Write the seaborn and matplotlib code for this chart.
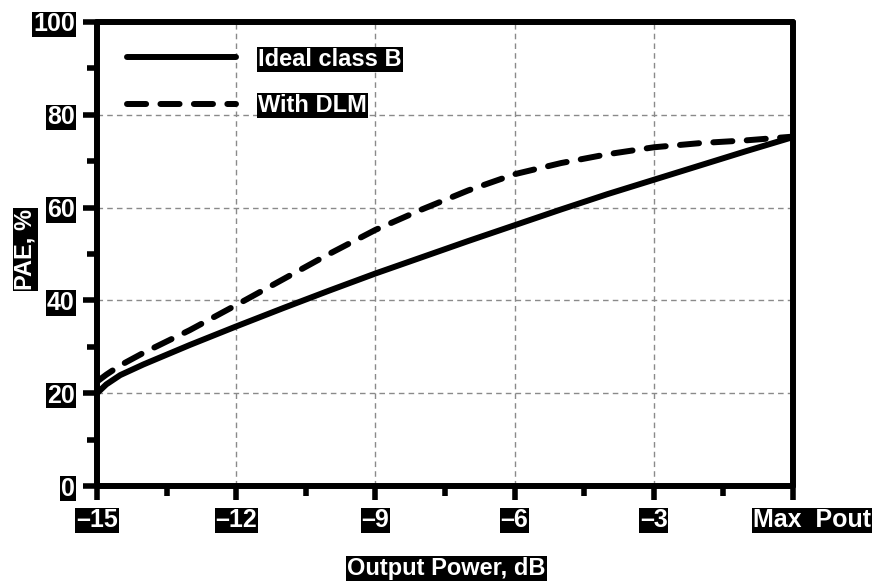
import numpy as np
import pandas as pd
import matplotlib
matplotlib.use("Agg")
import matplotlib.pyplot as plt
import matplotlib.transforms as mtransforms
from matplotlib.ticker import MultipleLocator
from matplotlib.lines import Line2D
import seaborn as sns

# ---- data ----
power_db = [-15, -14.8, -14.5, -14, -13, -12, -11, -10, -9, -8, -7, -6, -5, -4, -3, -2, -1, 0]
pae_ideal = [20.0, 21.9, 23.9, 26.2, 30.4, 34.4, 38.3, 42.1, 45.8, 49.3, 52.8, 56.2, 59.6, 62.9, 66.0, 69.1, 72.2, 75.2]
pae_dlm = [22.5, 24.0, 26.0, 28.7, 33.6, 39.0, 44.5, 50.0, 55.2, 59.6, 63.7, 67.2, 69.6, 71.5, 73.0, 73.9, 74.5, 75.3]
series_names = ["Ideal class B", "With DLM"]
x_ticks = [-15, -12, -9, -6, -3, 0]
x_tick_labels = ["\u201315", "\u201312", "\u20139", "\u20136", "\u20133", "Max  Pout"]
y_ticks = [0, 20, 40, 60, 80, 100]
x_label = "Output Power, dB"
y_label = "PAE, %"

df = pd.DataFrame({
    "power": power_db * 2,
    "pae": pae_ideal + pae_dlm,
    "series": [series_names[0]] * len(power_db) + [series_names[1]] * len(power_db),
})

sns.set_style("white")
plt.rcParams["font.family"] = ["Liberation Sans", "DejaVu Sans"]
plt.rcParams["font.weight"] = "bold"

fig = plt.figure(figsize=(8.78, 5.82), dpi=100)
ax = fig.add_axes([0.1105, 0.1649, 0.7927, 0.7973])

lw = 4.3
dash = (3.2, 2.4)
sns.lineplot(data=df, x="power", y="pae", style="series", color="black",
             dashes={series_names[0]: "", series_names[1]: dash},
             linewidth=lw, ax=ax, legend=False, sort=False)
for ln in ax.get_lines():
    ln.set_dash_capstyle("round")
    ln.set_solid_capstyle("round")
    ln.set_solid_joinstyle("round")

ax.set_xlim(-15, 0)
ax.set_ylim(0, 100)
ax.set_xticks(x_ticks)
ax.set_yticks(y_ticks)
ax.xaxis.set_minor_locator(MultipleLocator(1.5))
ax.yaxis.set_minor_locator(MultipleLocator(10))

ax.grid(True, which="major", color="#8a8a8a", linestyle=(0, (4, 3)), linewidth=1.0)
ax.set_axisbelow(True)

for sp in ax.spines.values():
    sp.set_linewidth(4.3)
    sp.set_color("black")
    sp.set_capstyle("round")

ax.tick_params(which="major", direction="out", length=10, width=4.0, color="black",
               labelsize=18, pad=6)
ax.tick_params(which="minor", direction="out", length=7, width=4.0, color="black")
ax.tick_params(axis="y", which="both", left=True)
ax.tick_params(axis="x", which="both", bottom=True)

box = dict(facecolor="black", edgecolor="none", pad=0.6)
ax.set_xticklabels(x_tick_labels, color="white", fontweight="bold")
ax.set_yticklabels([str(v) for v in y_ticks], color="white", fontweight="bold")
for lab in ax.get_xticklabels() + ax.get_yticklabels():
    lab.set_bbox(box)
xl = ax.get_xticklabels()
xl[-1].set_transform(xl[-1].get_transform() +
                     mtransforms.ScaledTranslation(0.19, 0, fig.dpi_scale_trans))

ax.set_xlabel(x_label, fontsize=17, fontweight="bold", color="white", bbox=box)
ax.set_ylabel(y_label, fontsize=17, fontweight="bold", color="white", bbox=box)
ax.xaxis.set_label_coords(0.502, -0.177)
ax.yaxis.set_label_coords(-0.103, 0.51)
ax.xaxis.label.set_va("center")
ax.yaxis.label.set_va("center")

handles = [Line2D([], [], color="black", lw=lw, solid_capstyle="round"),
           Line2D([], [], color="black", lw=lw, linestyle=(0, dash),
                  dash_capstyle="round")]
leg = ax.legend(handles, series_names, loc="upper left", frameon=False,
                fontsize=17, handlelength=4.6, handletextpad=0.95,
                labelspacing=1.0, borderaxespad=0.0, bbox_to_anchor=(0.03, 0.965))
for txt in leg.get_texts():
    txt.set_color("white")
    txt.set_fontweight("bold")
    txt.set_bbox(box)

fig.savefig("out.png", dpi=100)
